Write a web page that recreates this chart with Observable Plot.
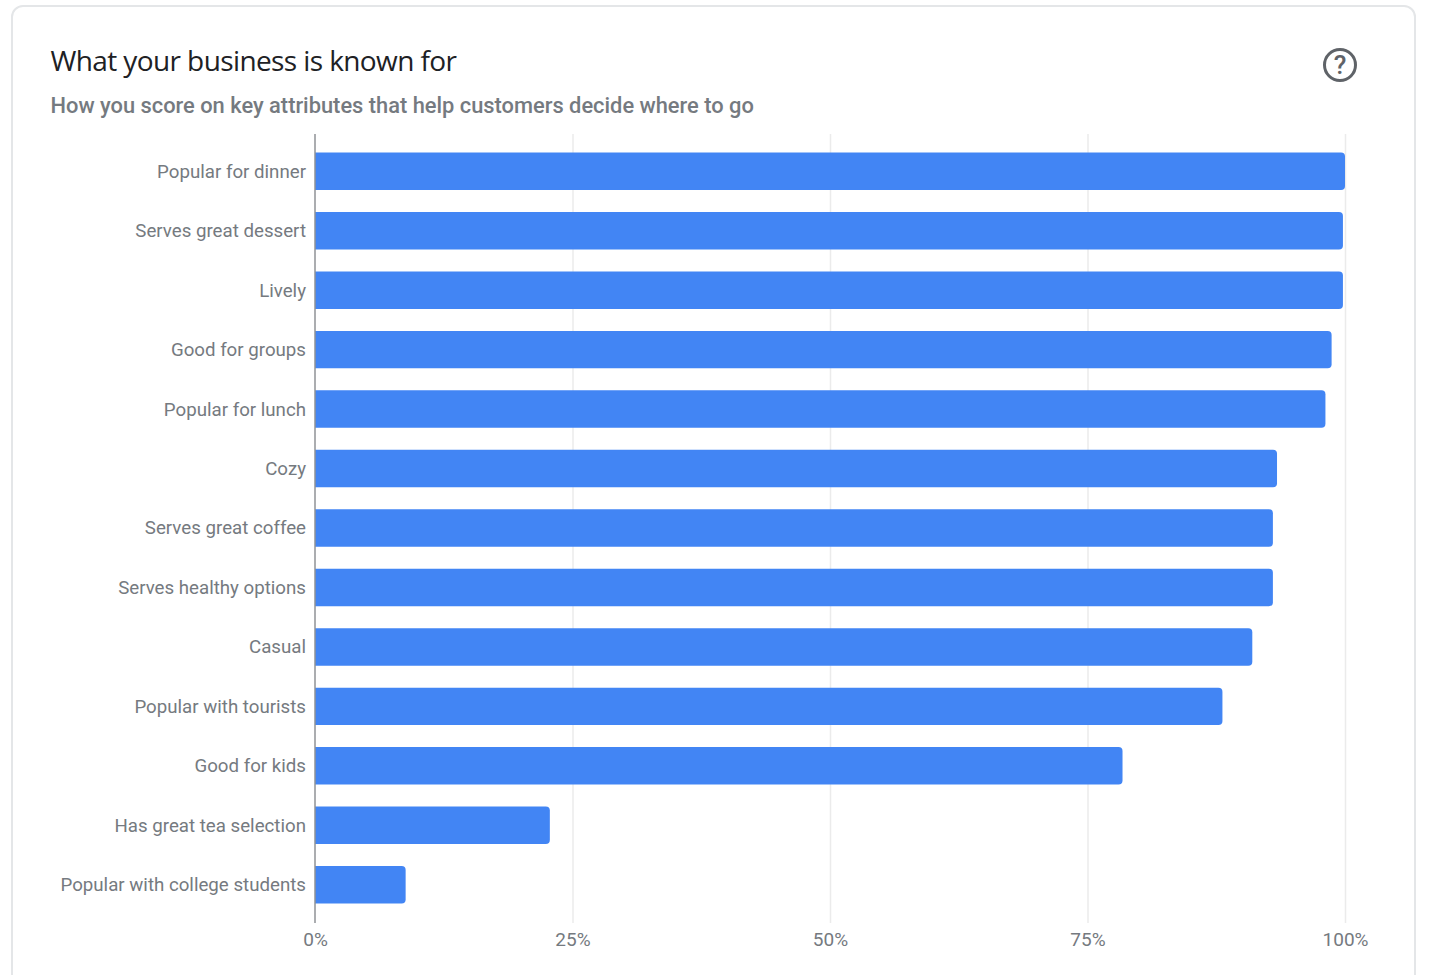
<!DOCTYPE html>
<html lang="en">
<head>
<meta charset="utf-8">
<title>What your business is known for</title>
<script src="https://cdn.jsdelivr.net/npm/d3@7"></script>
<script src="https://cdn.jsdelivr.net/npm/@observablehq/plot@0.6"></script>
<style>
  html, body { margin: 0; background: #fff; width: 1429px; height: 975px; overflow: hidden; }
  .card {
    position: absolute; left: 11px; top: 5px; width: 1401px; height: 1000px;
    border: 2px solid #e4e6e8; border-radius: 12px; background: #fff;
  }
  .page { position: relative; width: 1429px; height: 975px; overflow: hidden; }
  .header { position: relative; height: 124px; }
  .title {
    position: absolute; left: 50.5px; top: 41px; margin: 0;
    font: 400 28px "Open Sans", sans-serif; color: #202124; letter-spacing: -0.6px; white-space: nowrap;
  }
  .subtitle {
    position: absolute; left: 50.5px; top: 93px; margin: 0;
    font: 500 21.85px Roboto, sans-serif; color: #757a80; white-space: nowrap;
  }
  .help {
    position: absolute; left: 1323px; top: 48px; width: 28px; height: 28px;
    border: 3px solid #5f6368; border-radius: 50%; text-align: center;
    font: 500 26px/28px Roboto, sans-serif; color: #5f6368;
  }
  #chart { position: relative; display: block; }
  #chart svg { display: block; }
</style>
</head>
<body>
<div class="page">
  <div class="card"></div>
  <div class="header">
    <h1 class="title">What your business is known for</h1>
    <p class="subtitle">How you score on key attributes that help customers decide where to go</p>
    <div class="help">?</div>
  </div>
  <div id="chart"></div>
</div>
<script>
const categories = [
  "Popular for dinner", "Serves great dessert", "Lively", "Good for groups",
  "Popular for lunch", "Cozy", "Serves great coffee", "Serves healthy options",
  "Casual", "Popular with tourists", "Good for kids", "Has great tea selection",
  "Popular with college students"
];
const scores = [100, 99.8, 99.8, 98.7, 98.1, 93.4, 93, 93, 91, 88.1, 78.4, 22.8, 8.8];
const percentTicks = [0, 25, 50, 75, 100];

const rows = categories.map((name, i) => ({name, score: scores[i]}));

const chart = Plot.plot({
  width: 1429,
  height: 851,
  marginLeft: 315,
  marginRight: 84,
  marginTop: 10,
  marginBottom: 52,
  style: {background: "transparent", fontFamily: "Roboto, sans-serif", fontSize: "19px", color: "#757a80", overflow: "visible"},
  x: {domain: [0, 100], ticks: percentTicks, tickFormat: d => d + "%"},
  y: {domain: categories, round: false, paddingInner: 0.37, paddingOuter: 0.185, insetTop: 7.5, insetBottom: 8.5},
  marks: [
    Plot.ruleX(percentTicks.slice(1), {stroke: "#ebebeb", strokeWidth: 1.5}),
    // Only the far end of each bar is rounded; the base sits flush on the axis.
    Plot.barX(rows, {x: "score", y: "name", fill: "#4285f4", rx2: 4, title: d => `${d.name}: ${d.score}%`}),
    Plot.ruleX([0], {stroke: "#8f9296", strokeWidth: 1.5, dx: -0.5}),
    Plot.axisY({tickSize: 0, tickPadding: 9.5, label: null, fontSize: 18.7, fill: "#757a80"}),
    Plot.axisX({ticks: percentTicks, tickSize: 0, tickPadding: 9, label: null, fontSize: 19, fill: "#757a80", tickFormat: d => d + "%"})
  ]
});
document.getElementById("chart").append(chart);
</script>
</body>
</html>
